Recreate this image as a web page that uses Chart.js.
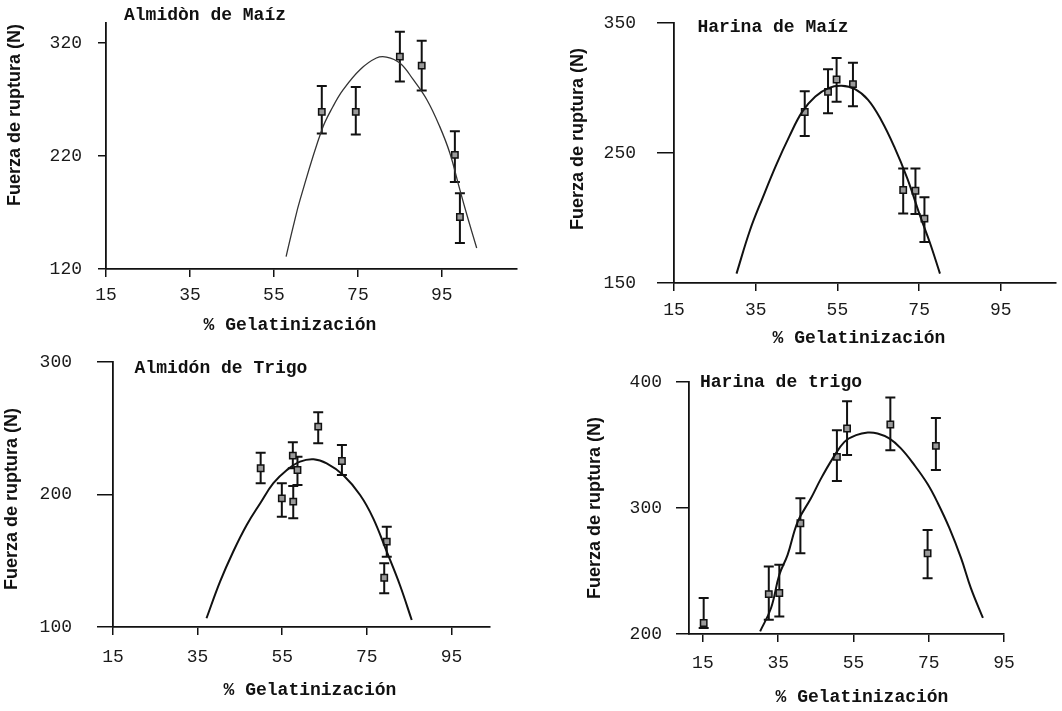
<!DOCTYPE html>
<html><head><meta charset="utf-8">
<script src="https://cdn.jsdelivr.net/npm/chart.js@4"></script>
<style>
html,body{margin:0;padding:0;background:#fff;}
body{width:1062px;height:711px;position:relative;overflow:hidden;}
canvas{position:absolute;}
</style></head><body>
<canvas id="c1" width="531" height="355" style="left:0;top:0"></canvas>
<canvas id="c2" width="531" height="355" style="left:531px;top:0"></canvas>
<canvas id="c3" width="531" height="356" style="left:0;top:355px"></canvas>
<canvas id="c4" width="531" height="356" style="left:531px;top:355px"></canvas>
<script>
// ---------- shared tick labels ----------
const xTickLabels = [15, 35, 55, 75, 95];
const xAxisTitle = '% Gelatinización';
const yAxisTitle = 'Fuerza de ruptura (N)';

// ---------- Panel 1: Almidòn de Maíz ----------
const amMaizTitle = 'Almidòn de Maíz';
const amMaizYTicks = [120, 220, 320];
const amMaizX  = [66.4, 74.5, 85.0, 90.2, 98.1, 99.3];
const amMaizY  = [259, 259, 308, 300, 221, 166];
const amMaizHi = [282, 281, 330, 322, 242, 187];
const amMaizLo = [240, 239, 286, 278, 197, 143];
const amMaizFitX = [57.9, 59.6, 61.2, 66.4, 69.1, 71.5, 75.5, 79.4, 81.8, 85.0, 88.2, 91.4, 94.5, 96.9, 99.3, 101.3, 103.3];
const amMaizFitY = [131, 157.7, 181, 243, 264, 278.7, 296.4, 306.7, 307.6, 302.3, 287.5, 270, 246, 222.6, 190, 163.6, 138.6];

// ---------- Panel 2: Harina de Maíz ----------
const haMaizTitle = 'Harina de Maíz';
const haMaizYTicks = [150, 250, 350];
const haMaizX  = [47.0, 52.7, 54.8, 58.8, 71.1, 74.1, 76.3];
const haMaizY  = [281.5, 297, 306.5, 303, 221.5, 221, 199.5];
const haMaizHi = [297.5, 314.5, 323, 319.5, 238, 238, 216];
const haMaizLo = [263, 280.5, 289.5, 286, 203.5, 203, 181.5];
const haMaizFitX = [30.3, 33.6, 36.8, 40.0, 43.2, 46.4, 49.6, 52.8, 56.0, 59.3, 62.5, 65.7, 68.9, 72.1, 75.3, 77.7, 80.1];
const haMaizFitY = [157.2, 190.6, 216.3, 240.7, 262.6, 281.8, 293.4, 299.9, 301.7, 299.1, 290.9, 275.4, 254.9, 230.5, 201, 180.4, 157.2];

// ---------- Panel 3: Almidón de Trigo ----------
const amTrigoTitle = 'Almidón de Trigo';
const amTrigoYTicks = [100, 200, 300];
const amTrigoX  = [49.9, 54.9, 57.5, 58.6, 57.6, 63.5, 69.1, 79.7, 79.1];
const amTrigoY  = [219.8, 197.1, 229.3, 218.5, 194.6, 251.2, 225.3, 164.4, 137.2];
const amTrigoHi = [231.6, 208.4, 239.4, 228.5, 206.4, 262.0, 237.4, 175.7, 148.1];
const amTrigoLo = [208.4, 183.2, 219.8, 207.2, 182.0, 238.6, 214.7, 153.1, 125.4];
const amTrigoFitX = [37.1, 40.3, 43.4, 46.6, 49.8, 52.9, 56.1, 59.2, 62.4, 65.5, 69.4, 73.4, 76.5, 79.7, 82.8, 85.6];
const amTrigoFitY = [106.6, 134.2, 156.8, 177, 193.4, 208.5, 218.5, 224.8, 226.6, 223.5, 214.7, 199.6, 182, 156.8, 131.7, 105.3];

// ---------- Panel 4: Harina de trigo ----------
const haTrigoTitle = 'Harina de trigo';
const haTrigoYTicks = [200, 300, 400];
const haTrigoX  = [15.2, 32.5, 35.3, 40.9, 50.6, 53.3, 64.8, 74.7, 76.9];
const haTrigoY  = [208.7, 231.7, 232.5, 287.9, 340.6, 363.1, 366.3, 264.1, 349.3];
const haTrigoHi = [228.5, 253.5, 254.9, 307.7, 361.8, 384.7, 387.6, 282.6, 371.5];
const haTrigoLo = [204.8, 211.3, 213.9, 264.1, 321.4, 342.0, 345.9, 244.3, 330.1];
const haTrigoFitX = [30.2, 33.1, 35.3, 37.5, 40.2, 43.7, 46.4, 49.5, 52.6, 55.7, 58.8, 61.4, 64.5, 67.6, 71.2, 74.7, 77.4, 80.5, 83.6, 86.2, 89.4];
const haTrigoFitY = [202.1, 220.6, 247, 262.8, 289.2, 307.7, 323.5, 339.4, 352.5, 357.8, 359.9, 359.1, 355.2, 347.3, 334, 319, 304, 284, 260.2, 236.4, 212.7];

// ---------- helpers ----------
const pts = (xs, ys) => xs.map((v, i) => ({x: v, y: ys[i]}));
const MONO = '"Liberation Mono", "DejaVu Sans Mono", monospace';
const SANS = '"Liberation Sans", Arial, sans-serif';

const errPlugin = {
  id: 'errbars',
  beforeDatasetsDraw(chart) {
    const {ctx, scales: {x, y}} = chart;
    chart.data.datasets.forEach(ds => {
      if (!ds.errHi) return;
      ctx.save();
      ctx.strokeStyle = '#111';
      ctx.lineWidth = 2;
      ds.data.forEach((p, i) => {
        const px = x.getPixelForValue(p.x);
        const t = y.getPixelForValue(ds.errHi[i]);
        const b = y.getPixelForValue(ds.errLo[i]);
        ctx.beginPath();
        ctx.moveTo(px, t); ctx.lineTo(px, b);
        ctx.moveTo(px - 5, t); ctx.lineTo(px + 5, t);
        ctx.moveTo(px - 5, b); ctx.lineTo(px + 5, b);
        ctx.stroke();
      });
      ctx.restore();
    });
  }
};

function makePanel(id, c) {
  const canvas = document.getElementById(id);
  const W = canvas.width, H = canvas.height;
  const textPlugin = {
    id: 'texts',
    afterDraw(chart) {
      const ctx = chart.ctx;
      ctx.save();
      ctx.fillStyle = '#111';
      ctx.textAlign = 'center';
      ctx.textBaseline = 'middle';
      ctx.font = 'bold 18px ' + MONO;
      ctx.fillText(c.title, c.titlePos[0], c.titlePos[1]);
      ctx.fillText(xAxisTitle, c.xTitlePos[0], c.xTitlePos[1]);
      ctx.translate(c.yTitlePos[0], c.yTitlePos[1]);
      ctx.rotate(-Math.PI / 2);
      ctx.font = 'bold 18px ' + SANS;
      ctx.fillText(yAxisTitle, 0, 0);
      ctx.restore();
    }
  };
  new Chart(canvas, {
    type: 'scatter',
    data: {
      datasets: [
        {
          data: pts(c.fitX, c.fitY),
          showLine: true,
          tension: 0.4,
          borderColor: c.lineColor || '#111',
          borderWidth: c.lineWidth || 2,
          pointRadius: 0,
          fill: false
        },
        {
          data: pts(c.xs, c.ys),
          errHi: c.hi,
          errLo: c.lo,
          pointStyle: 'rect',
          pointRadius: 4.5,
          backgroundColor: '#9a9a9a',
          borderColor: '#111',
          borderWidth: 1.5
        }
      ]
    },
    options: {
      responsive: false,
      animation: false,
      events: [],
      layout: { padding: { left: 0, top: c.area.top, right: W - c.area.right, bottom: 0 } },
      plugins: { legend: { display: false }, tooltip: { enabled: false } },
      scales: {
        x: {
          type: 'linear',
          min: c.xMin, max: c.xMax,
          afterBuildTicks: s => { s.ticks = xTickLabels.map(v => ({value: v})); },
          afterFit: s => { s.height = H - c.area.bottom; s.paddingLeft = 0; s.paddingRight = 0; },
          ticks: { font: { family: MONO, size: 18 }, color: '#1a1a1a', padding: c.xPad, maxRotation: 0, autoSkip: false },
          grid: { drawOnChartArea: false, drawTicks: true, tickLength: 8, color: '#111', lineWidth: 1.5 },
          border: { display: true, color: '#111', width: 1.8 }
        },
        y: {
          type: 'linear',
          min: c.yMin, max: c.yMax,
          afterBuildTicks: s => { s.ticks = c.yTicks.map(v => ({value: v})); },
          afterFit: s => { s.width = c.area.left; s.paddingTop = 0; s.paddingBottom = 0; },
          ticks: { font: { family: MONO, size: 18 }, color: '#1a1a1a', padding: c.yPad, autoSkip: false },
          grid: { drawOnChartArea: false, drawTicks: true, tickLength: c.yTick, color: '#111', lineWidth: 1.5 },
          border: { display: true, color: '#111', width: 1.8 }
        }
      }
    },
    plugins: [errPlugin, textPlugin]
  });
}

makePanel('c1', {
  title: amMaizTitle, titlePos: [205, 15], xTitlePos: [290, 325], yTitlePos: [15, 115],
  area: { left: 106, top: 23, right: 517, bottom: 269 },
  xMin: 15, xMax: 112.9, yMin: 120, yMax: 337.7, yTicks: amMaizYTicks,
  xs: amMaizX, ys: amMaizY, hi: amMaizHi, lo: amMaizLo, fitX: amMaizFitX, fitY: amMaizFitY,
  xPad: 7, yPad: 16, yTick: 8, lineWidth: 1.3, lineColor: '#333'
});
makePanel('c2', {
  title: haMaizTitle, titlePos: [242, 27], xTitlePos: [328, 338], yTitlePos: [47, 139],
  area: { left: 143, top: 23, right: 531, bottom: 283 },
  xMin: 15, xMax: 108.5, yMin: 150, yMax: 350, yTicks: haMaizYTicks,
  xs: haMaizX, ys: haMaizY, hi: haMaizHi, lo: haMaizLo, fitX: haMaizFitX, fitY: haMaizFitY,
  xPad: 8, yPad: 21, yTick: 17
});
makePanel('c3', {
  title: amTrigoTitle, titlePos: [221, 13], xTitlePos: [310, 335], yTitlePos: [12, 144],
  area: { left: 113, top: 7, right: 490, bottom: 272 },
  xMin: 15, xMax: 104.1, yMin: 100, yMax: 300, yTicks: amTrigoYTicks,
  xs: amTrigoX, ys: amTrigoY, hi: amTrigoHi, lo: amTrigoLo, fitX: amTrigoFitX, fitY: amTrigoFitY,
  xPad: 11, yPad: 25, yTick: 16
});
makePanel('c4', {
  title: haTrigoTitle, titlePos: [250, 27], xTitlePos: [331, 342], yTitlePos: [64, 153],
  area: { left: 158, top: 27, right: 473, bottom: 279 },
  xMin: 11.3, xMax: 95, yMin: 200, yMax: 400, yTicks: haTrigoYTicks,
  xs: haTrigoX, ys: haTrigoY, hi: haTrigoHi, lo: haTrigoLo, fitX: haTrigoFitX, fitY: haTrigoFitY,
  xPad: 10, yPad: 14, yTick: 13
});
</script>
</body></html>
